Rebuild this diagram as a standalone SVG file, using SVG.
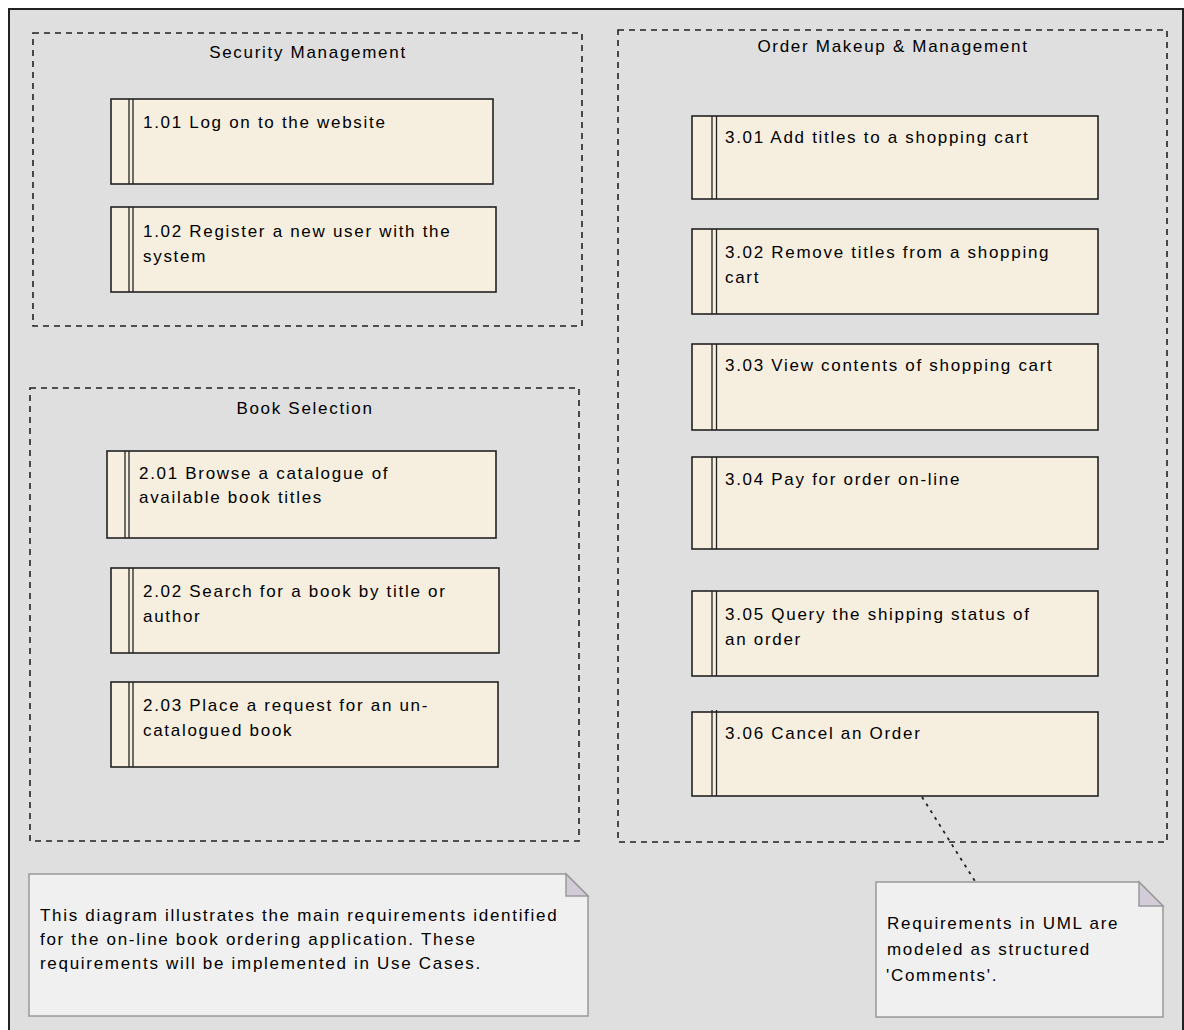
<svg xmlns="http://www.w3.org/2000/svg" width="1184" height="1030" viewBox="0 0 1184 1030">
<style>
text{font-family:"Liberation Sans",Arial,sans-serif;font-size:17px;letter-spacing:1.7px;fill:#000}
.frame{fill:#dfdfdf;stroke:#222;stroke-width:2}
.pkg{fill:none;stroke:#222;stroke-width:1.6;stroke-dasharray:6 5}
.req{fill:#f6efe0;stroke:#222;stroke-width:1.6}
.bar{stroke:#222;stroke-width:1.3}
.note{fill:#f0f0f0;stroke:#999;stroke-width:1.5}
.fold{fill:#d2ccd8;stroke:#999;stroke-width:1.5}
.title{text-anchor:middle}
.conn{fill:none;stroke:#222;stroke-width:1.8;stroke-dasharray:3 5}
</style>
<rect class="frame" x="9" y="9" width="1174" height="1030"/>

<g id="pkg-security">
<rect class="pkg" x="33" y="33" width="549" height="293"/>
<text class="title" x="308" y="58">Security Management</text>
</g>
<g id="pkg-book">
<rect class="pkg" x="30" y="388" width="549" height="453"/>
<text class="title" x="305" y="414">Book Selection</text>
</g>
<g id="pkg-order">
<rect class="pkg" x="618" y="30" width="549" height="812"/>
<text class="title" x="893" y="52">Order Makeup &amp; Management</text>
</g>

<g id="req-101">
<rect class="req" x="111" y="99" width="382" height="85"/>
<line class="bar" x1="129" y1="99" x2="129" y2="184"/><line class="bar" x1="133" y1="99" x2="133" y2="184"/>
<text x="143" y="128">1.01 Log on to the website</text>
</g>
<g id="req-102">
<rect class="req" x="111" y="207" width="385" height="85"/>
<line class="bar" x1="129" y1="207" x2="129" y2="292"/><line class="bar" x1="133" y1="207" x2="133" y2="292"/>
<text x="143" y="237">1.02 Register a new user with the</text>
<text x="143" y="262">system</text>
</g>
<g id="req-201">
<rect class="req" x="107" y="451" width="389" height="87"/>
<line class="bar" x1="125" y1="451" x2="125" y2="538"/><line class="bar" x1="129" y1="451" x2="129" y2="538"/>
<text x="139" y="479">2.01 Browse a catalogue of</text>
<text x="139" y="503">available book titles</text>
</g>
<g id="req-202">
<rect class="req" x="111" y="568" width="388" height="85"/>
<line class="bar" x1="129" y1="568" x2="129" y2="653"/><line class="bar" x1="133" y1="568" x2="133" y2="653"/>
<text x="143" y="597">2.02 Search for a book by title or</text>
<text x="143" y="622">author</text>
</g>
<g id="req-203">
<rect class="req" x="111" y="682" width="387" height="85"/>
<line class="bar" x1="129" y1="682" x2="129" y2="767"/><line class="bar" x1="133" y1="682" x2="133" y2="767"/>
<text x="143" y="711">2.03 Place a request for an un-</text>
<text x="143" y="736">catalogued book</text>
</g>

<g id="req-301">
<rect class="req" x="692" y="116" width="406" height="83"/>
<line class="bar" x1="712" y1="116" x2="712" y2="199"/><line class="bar" x1="716.5" y1="116" x2="716.5" y2="199"/>
<text x="725" y="143">3.01 Add titles to a shopping cart</text>
</g>
<g id="req-302">
<rect class="req" x="692" y="229" width="406" height="85"/>
<line class="bar" x1="712" y1="229" x2="712" y2="314"/><line class="bar" x1="716.5" y1="229" x2="716.5" y2="314"/>
<text x="725" y="258">3.02 Remove titles from a shopping</text>
<text x="725" y="283">cart</text>
</g>
<g id="req-303">
<rect class="req" x="692" y="344" width="406" height="86"/>
<line class="bar" x1="712" y1="344" x2="712" y2="430"/><line class="bar" x1="716.5" y1="344" x2="716.5" y2="430"/>
<text x="725" y="371">3.03 View contents of shopping cart</text>
</g>
<g id="req-304">
<rect class="req" x="692" y="457" width="406" height="92"/>
<line class="bar" x1="712" y1="457" x2="712" y2="549"/><line class="bar" x1="716.5" y1="457" x2="716.5" y2="549"/>
<text x="725" y="485">3.04 Pay for order on-line</text>
</g>
<g id="req-305">
<rect class="req" x="692" y="591" width="406" height="85"/>
<line class="bar" x1="712" y1="591" x2="712" y2="676"/><line class="bar" x1="716.5" y1="591" x2="716.5" y2="676"/>
<text x="725" y="620">3.05 Query the shipping status of</text>
<text x="725" y="645">an order</text>
</g>
<g id="req-306">
<rect class="req" x="692" y="712" width="406" height="84"/>
<line class="bar" x1="712" y1="710" x2="712" y2="796"/><line class="bar" x1="716.5" y1="710" x2="716.5" y2="796"/>
<text x="725" y="739">3.06 Cancel an Order</text>
</g>

<g id="connectors">
<line class="conn" x1="922" y1="797" x2="975.5" y2="882"/>
</g>

<g id="note-main">
<path class="note" d="M29,874 H566 L588,896 V1016 H29 Z"/>
<path class="fold" d="M566,874 L588,896 H566 Z"/>
<text x="40" y="921">This diagram illustrates the main requirements identified</text>
<text x="40" y="945">for the on-line book ordering application. These</text>
<text x="40" y="969">requirements will be implemented in Use Cases.</text>
</g>
<g id="note-uml">
<path class="note" d="M876,882 H1139 L1163,906 V1017 H876 Z"/>
<path class="fold" d="M1139,882 L1163,906 H1139 Z"/>
<text x="887" y="929">Requirements in UML are</text>
<text x="887" y="955">modeled as structured</text>
<text x="886" y="981">'Comments'.</text>
</g>
</svg>
